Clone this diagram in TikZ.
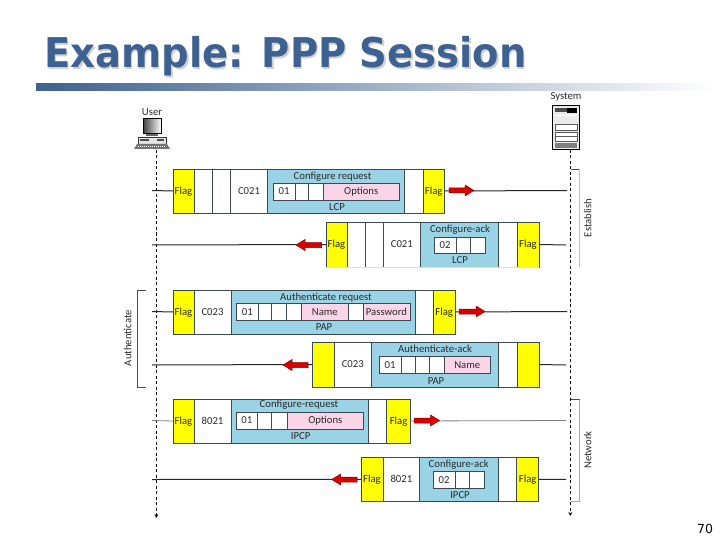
\documentclass[tikz,border=0pt]{standalone}
\usepackage{fontspec}
\setmainfont{DejaVu Sans}
\newfontfamily\lblfont{Carlito}
\newfontfamily\numfont{DejaVu Sans}
\usetikzlibrary{arrows.meta}
\definecolor{titleblue}{HTML}{3D6190}
\definecolor{flagy}{HTML}{FFFF00}
\definecolor{pktblue}{HTML}{9AD3E6}
\definecolor{pktpink}{HTML}{FAD5E8}
\definecolor{edge}{HTML}{3A4A50}
\definecolor{txt}{HTML}{2A2A2A}
\tikzset{
  cel/.style={draw=edge,line width=0.8pt,inner sep=0pt,outer sep=0pt,font=\lblfont\fontsize{10.7}{10.7}\selectfont,text=txt,text height=8.6pt,text depth=2pt},
  flagcell/.style={cel,fill=flagy},
  whitecell/.style={cel,fill=white},
  bluecell/.style={cel,fill=pktblue},
  pinkcell/.style={cel,fill=pktpink},
  lbl/.style={inner sep=0pt,font=\lblfont\fontsize{10.7}{10.7}\selectfont,text=txt,text height=8.6pt,text depth=2pt},
  wire/.style={line width=1pt,color=black!85},
  greywire/.style={line width=0.8pt,color=black!50},
  lifeline/.style={line width=0.7pt,dash pattern=on 3pt off 2.5pt,-{Stealth[length=4pt,width=4pt]}},
  bracket/.style={line width=0.7pt,color=black!70},
  redarr/.style={fill=red!85!black,draw=red!50!black,line width=0.5pt}
}
\newcommand{\cel}[7][]{\node[#2,#1,minimum width={(#4)-(#3)},minimum height={(#6)-(#5)}] (#7) at ({((#3)+(#4))/2},{((#5)+(#6))/2})}
\newcommand{\redR}[3]{\path[redarr] (#1,#3-2.5) -- (#2-9,#3-2.5) -- (#2-9,#3-5.5) -- (#2,#3) -- (#2-9,#3+5.5) -- (#2-9,#3+2.5) -- (#1,#3+2.5) -- cycle;}
\newcommand{\redL}[3]{\path[redarr] (#1,#3-2.5) -- (#2+9,#3-2.5) -- (#2+9,#3-5.5) -- (#2,#3) -- (#2+9,#3+5.5) -- (#2+9,#3+2.5) -- (#1,#3+2.5) -- cycle;}
\begin{document}
\begin{tikzpicture}[x=1pt,y=-1pt]
\useasboundingbox (0,0) rectangle (720,540);
\fill[white] (0,0) rectangle (720,540);
% title
\node[anchor=base west,inner sep=0pt,text=black!18,font=\bfseries\fontsize{41}{41}\selectfont] (titleshadow) at (45.5,69.5) {\scalebox{0.94}[1]{Example: PPP Session}};
\node[anchor=base west,inner sep=0pt,text=titleblue,font=\bfseries\fontsize{41}{41}\selectfont] (title) at (44,68) {\scalebox{0.94}[1]{Example: PPP Session}};
\fill[left color=titleblue,right color=white] (36,84) rectangle (716,91);
\node[anchor=base,inner sep=0pt,font=\numfont\fontsize{12.5}{12.5}\selectfont] (pagenum) at (705,533) {70};
% user icon
\node[lbl] (userlbl) at (152,112.5) {User};
\node[draw=black,line width=0.8pt,minimum width=18pt,minimum height=15pt,inner sep=0pt,left color=black!75,right color=white] (usermon) at (152,126) {};
\fill[black!60] (146,134) rectangle (158,136);
\node[draw=black!80,fill=black!10,line width=0.6pt,minimum width=28pt,minimum height=7pt,inner sep=0pt] (userbase) at (152,140.5) {};
\fill[black!70] (140,139) rectangle (149,141);
\fill[black!70] (157,139) rectangle (164,141);
\path[fill=black!55] (137,144) -- (167,144) -- (170,149) -- (134,149) -- cycle;
\draw[white,line width=0.4pt,dash pattern=on 1pt off 1pt] (138,146.5) -- (166,146.5);
% system icon
\node[lbl] (syslbl) at (566,96.5) {System};
\node[draw=black,line width=0.8pt,fill=black!8,minimum width=27pt,minimum height=44pt,inner sep=0pt] (sysbox) at (566,127) {};
\fill[black!70] (555,108.5) rectangle (577,112);
\fill[black] (567,108) rectangle (577,113);
\fill[white] (555,115) rectangle (577,116);
\draw[black!65,fill=white,line width=0.5pt] (555,124) rectangle (577,130);
\draw[black!65,fill=white,line width=0.5pt] (555,132) rectangle (577,141);
\draw[black!65,line width=0.5pt] (555,136.5) -- (577,136.5);
\fill[black!50] (555,143) rectangle (577,148);
% lifelines
\coordinate (uTop) at (156.3,150);
\coordinate (uEnd) at (156.3,518);
\coordinate (sTop) at (570.3,150);
\coordinate (sEnd) at (570.3,516);
\draw[lifeline] (uTop) -- (uEnd);
\draw[lifeline] (sTop) -- (sEnd);
% brackets
\coordinate (eA) at (570.5,169.5); \coordinate (eB) at (579.5,169.5); \coordinate (eC) at (579.5,267);
\draw[bracket] (eA) -- (eB); \draw[black!25,line width=0.6pt] (eB) -- (eC);
\coordinate (aA) at (146,290); \coordinate (aB) at (137.5,290); \coordinate (aC) at (137.5,387); \coordinate (aD) at (146,387);
\draw[bracket] (aA) -- (aB) -- (aC) -- (aD);
\coordinate (nA) at (570.5,399.5); \coordinate (nB) at (579.5,399.5); \coordinate (nC) at (579.5,501); \coordinate (nD) at (570.5,501);
\draw[bracket] (nA) -- (nB); \draw[black!35,line width=0.6pt] (nB) -- (nC) -- (nD);
\node[lbl,rotate=90] (estlbl) at (588,218) {Establish};
\node[lbl,rotate=90] (autlbl) at (128,338) {Authenticate};
\node[lbl,rotate=90] (netlbl) at (588,450) {Network};

% ---- frame 1
\coordinate (w1a) at (152,190.5); \coordinate (w1b) at (567,190.5);
\cel{flagcell}{173}{194}{169}{213}{f1a} {Flag};
\cel{whitecell}{194}{212.5}{169}{213}{f1b} {};
\cel{whitecell}{212.5}{230.5}{169}{213}{f1c} {};
\cel{whitecell}{230.5}{267.5}{169}{213}{f1d} {C021};
\cel{bluecell}{267.5}{404.5}{169}{213}{f1e} {};
\cel{whitecell}{404.5}{423}{169}{213}{f1f} {};
\cel{flagcell}{423}{444.5}{169}{213}{f1g} {Flag};
\cel{whitecell}{273}{295}{183}{200}{i1a} {01};
\cel{whitecell}{295}{308.5}{183}{200}{i1b} {};
\cel{whitecell}{308.5}{323.5}{183}{200}{i1c} {};
\cel{pinkcell}{323.5}{399}{183}{200}{i1d} {Options};
\node[lbl] (h1) at (332.5,176) {Configure request};
\node[lbl] (p1) at (337,207) {LCP};
\draw[wire] (w1a) -- (f1a.west);
\draw[wire] (f1g.east) -- (w1b);
\redR{449}{474}{190.5}

% ---- frame 2
\coordinate (w2a) at (152,245); \coordinate (w2b) at (566,245);
\cel{flagcell}{326}{347}{222}{267}{f2a} {Flag};
\cel{whitecell}{347}{365}{222}{267}{f2b} {};
\cel{whitecell}{365}{383}{222}{267}{f2c} {};
\cel{whitecell}{383}{420.7}{222}{267}{f2d} {C021};
\cel{bluecell}{420.7}{498.5}{222}{267}{f2e} {};
\cel{whitecell}{498.5}{517}{222}{267}{f2f} {};
\cel{flagcell}{517}{539}{222}{267}{f2g} {Flag};
\draw[black!12,line width=1pt] (f2a.south west) -- (f2g.south east);
\cel{whitecell}{434}{456}{237}{253}{i2a} {02};
\cel{whitecell}{456}{470}{237}{253}{i2b} {};
\cel{whitecell}{470}{485}{237}{253}{i2c} {};
\node[lbl] (h2) at (460,229) {Configure-ack};
\node[lbl] (p2) at (460,260) {LCP};
\draw[wire] (w2a) -- (f2a.west);
\draw[wire] (f2g.east) -- (w2b);
\redL{321.5}{296}{245}

% ---- frame 3
\coordinate (w3a) at (152,311.5); \coordinate (w3b) at (567,311.5);
\cel{flagcell}{173}{194}{290}{334}{f3a} {Flag};
\cel{whitecell}{194}{231}{290}{334}{f3b} {C023};
\cel{bluecell}{231}{415}{290}{334}{f3c} {};
\cel{whitecell}{415}{433.5}{290}{334}{f3d} {};
\cel{flagcell}{433.5}{455}{290}{334}{f3e} {Flag};
\cel{whitecell}{236.7}{258}{303}{320.5}{i3a} {01};
\cel{whitecell}{258}{271.5}{303}{320.5}{i3b} {};
\cel{whitecell}{271.5}{286.7}{303}{320.5}{i3c} {};
\cel{whitecell}{286.7}{301.7}{303}{320.5}{i3d} {};
\cel{pinkcell}{301.7}{348}{303}{320.5}{i3e} {Name};
\cel{whitecell}{348}{363}{303}{320.5}{i3f} {};
\cel{pinkcell}{363}{410}{303}{320.5}{i3g} {Password};
\node[lbl] (h3) at (326,297) {Authenticate request};
\node[lbl] (p3) at (324,327.5) {PAP};
\draw[wire] (w3a) -- (f3a.west);
\draw[wire] (f3e.east) -- (w3b);
\redR{459}{485}{311.5}

% ---- frame 4
\coordinate (w4a) at (152,365); \coordinate (w4b) at (566,365);
\cel{flagcell}{312}{334}{342}{387}{f4a} {};
\cel{whitecell}{334}{371.5}{342}{387}{f4b} {C023};
\cel{bluecell}{371.5}{498.5}{342}{387}{f4c} {};
\cel{whitecell}{498.5}{517}{342}{387}{f4d} {};
\cel{flagcell}{517}{539}{342}{387}{f4e} {};
\cel{whitecell}{379}{401}{356.7}{373}{i4a} {01};
\cel{whitecell}{401}{415}{356.7}{373}{i4b} {};
\cel{whitecell}{415}{429}{356.7}{373}{i4c} {};
\cel{whitecell}{429}{444}{356.7}{373}{i4d} {};
\cel{pinkcell}{444}{490.5}{356.7}{373}{i4e} {Name};
\node[lbl] (h4) at (435,349) {Authenticate-ack};
\node[lbl] (p4) at (436,381) {PAP};
\draw[wire] (w4a) -- (f4a.west);
\draw[wire] (f4e.east) -- (w4b);
\redL{308}{283}{365}

% ---- frame 5
\coordinate (w5a) at (152,420.5); \coordinate (w5b) at (566,420.5);
\cel{flagcell}{173}{194}{399}{443}{f5a} {Flag};
\cel{whitecell}{194}{231}{399}{443}{f5b} {8021};
\cel{bluecell}{231}{368.5}{399}{443}{f5c} {};
\cel{whitecell}{368.5}{386.7}{399}{443}{f5d} {};
\cel{flagcell}{386.7}{410.5}{399}{443}{f5e} {Flag};
\cel{whitecell}{236}{257.7}{412}{429}{i5a} {01};
\cel{whitecell}{257.7}{271.3}{412}{429}{i5b} {};
\cel{whitecell}{271.3}{287.7}{412}{429}{i5c} {};
\cel{pinkcell}{287.7}{363}{412}{429}{i5d} {Options};
\node[lbl] (h5) at (299,404.5) {Configure-request};
\node[lbl] (p5) at (300.7,436.5) {IPCP};
\draw[greywire] (w5a) -- (f5a.west);
\draw[greywire] (f5e.east) -- (w5b);
\redR{414}{439.5}{420.5}

% ---- frame 6
\coordinate (w6a) at (152,479.5); \coordinate (w6b) at (566,479.5);
\cel{flagcell}{361}{383}{457}{501.7}{f6a} {Flag};
\cel{whitecell}{383}{419.7}{457}{501.7}{f6b} {8021};
\cel{bluecell}{419.7}{498.7}{457}{501.7}{f6c} {};
\cel{whitecell}{498.7}{516.7}{457}{501.7}{f6d} {};
\cel{flagcell}{516.7}{538.7}{457}{501.7}{f6e} {Flag};
\cel{whitecell}{433}{455}{471.7}{488}{i6a} {02};
\cel{whitecell}{455}{469}{471.7}{488}{i6b} {};
\cel{whitecell}{469}{484.7}{471.7}{488}{i6c} {};
\node[lbl] (h6) at (458.7,464) {Configure-ack};
\node[lbl] (p6) at (460,495) {IPCP};
\draw[wire] (w6a) -- (f6a.west);
\draw[wire] (f6e.east) -- (w6b);
\redL{357}{331.7}{479.5}
\end{tikzpicture}
\end{document}
